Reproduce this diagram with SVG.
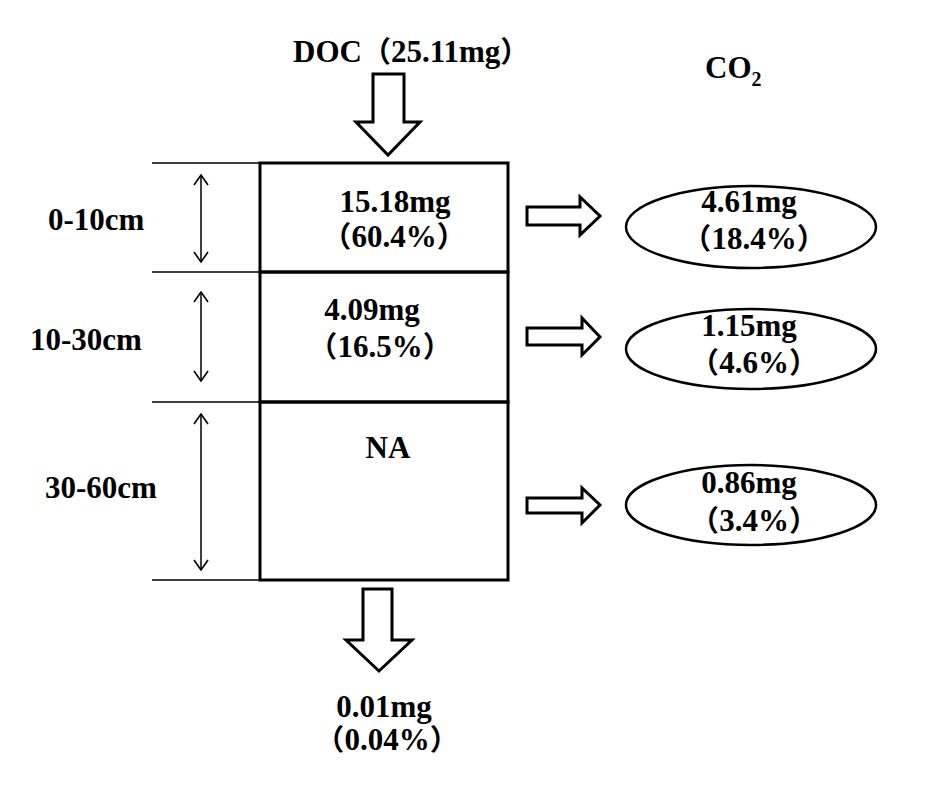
<svg xmlns="http://www.w3.org/2000/svg" width="943" height="787" viewBox="0 0 943 787">
<defs>
<style>
.t{font-family:"Liberation Serif",serif;font-weight:bold;font-size:31px;fill:#000}
.p{font-family:"Noto Sans CJK SC",sans-serif;font-weight:bold;font-size:29px}
.c{text-anchor:middle}
.thin{stroke:#000;stroke-width:1.5;fill:none}
.box{stroke:#000;stroke-width:3;fill:none}
.blk{stroke:#000;stroke-width:3;fill:#fff;stroke-linejoin:miter}
.ell{stroke:#000;stroke-width:2.5;fill:#fff}
</style>
<marker id="v" viewBox="0 0 12 16" refX="11" refY="8" markerWidth="12" markerHeight="16" markerUnits="userSpaceOnUse" orient="auto-start-reverse">
<path d="M1,1 L11,8 L1,15" fill="none" stroke="#000" stroke-width="1.6"/>
</marker>
</defs>
<rect width="943" height="787" fill="#fff"/>
<g id="connectors">
<path class="thin" d="M152,163H260M152,272H260M152,402H260M152,580H260"/>
<line class="thin" x1="201" y1="175" x2="201" y2="262" marker-start="url(#v)" marker-end="url(#v)"/>
<line class="thin" x1="201" y1="292" x2="201" y2="381" marker-start="url(#v)" marker-end="url(#v)"/>
<line class="thin" x1="201" y1="414" x2="201" y2="570" marker-start="url(#v)" marker-end="url(#v)"/>
<path class="blk" d="M373,74H404V122H420L388,155L356,122H373Z"/>
<path class="blk" d="M363,589H392V640H412L379,671L346,640H363Z"/>
<path class="blk" d="M527,207H580V197L600,216L580,235V225H527Z"/>
<path class="blk" d="M527,328H582V318L600,337L582,355V345H527Z"/>
<path class="blk" d="M527,498H582V488L600,505L582,523V513H527Z"/>
</g>
<g id="doc"><text class="t" x="293" y="62">DOC<tspan class="p">（</tspan>25.11mg<tspan class="p">）</tspan></text></g>
<g id="co2"><text class="t" x="705" y="78">CO<tspan font-size="20" dy="8">2</tspan></text></g>
<g id="layer1">
<rect class="box" x="260" y="163" width="248" height="109"/>
<text class="t c" x="395" y="212">15.18mg</text>
<text class="t c" x="394" y="247"><tspan class="p">（</tspan>60.4%<tspan class="p">）</tspan></text>
</g>
<g id="layer2">
<rect class="box" x="260" y="272" width="248" height="130"/>
<text class="t c" x="372" y="320">4.09mg</text>
<text class="t c" x="380" y="357"><tspan class="p">（</tspan>16.5%<tspan class="p">）</tspan></text>
</g>
<g id="layer3">
<rect class="box" x="260" y="402" width="248" height="178"/>
<text class="t c" x="388" y="458">NA</text>
</g>
<g id="label1"><text class="t" x="48" y="230">0-10cm</text></g>
<g id="label2"><text class="t" x="30" y="350">10-30cm</text></g>
<g id="label3"><text class="t" x="45" y="498">30-60cm</text></g>
<g id="co2-1">
<ellipse class="ell" cx="751" cy="227" rx="125" ry="41"/>
<text class="t c" x="749" y="212">4.61mg</text>
<text class="t c" x="754" y="249"><tspan class="p">（</tspan>18.4%<tspan class="p">）</tspan></text>
</g>
<g id="co2-2">
<ellipse class="ell" cx="751" cy="349" rx="125" ry="40"/>
<text class="t c" x="749" y="336">1.15mg</text>
<text class="t c" x="754" y="373"><tspan class="p">（</tspan>4.6%<tspan class="p">）</tspan></text>
</g>
<g id="co2-3">
<ellipse class="ell" cx="751" cy="505" rx="125" ry="40"/>
<text class="t c" x="749" y="493">0.86mg</text>
<text class="t c" x="754" y="531"><tspan class="p">（</tspan>3.4%<tspan class="p">）</tspan></text>
</g>
<g id="leach">
<text class="t c" x="384" y="717">0.01mg</text>
<text class="t c" x="387" y="750"><tspan class="p">（</tspan>0.04%<tspan class="p">）</tspan></text>
</g>
</svg>
